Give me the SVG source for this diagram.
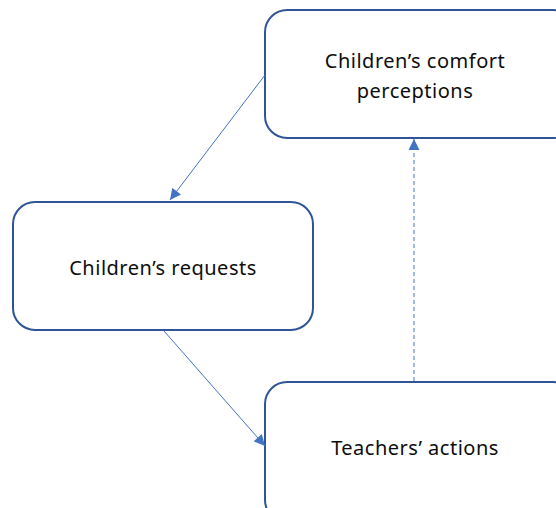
<svg xmlns="http://www.w3.org/2000/svg" width="556" height="508" viewBox="0 0 556 508">
<style>
.box{fill:#fff;stroke:#2F5597;stroke-width:2}
.lbl{font-family:"Noto Sans","Open Sans",sans-serif;font-size:20px;letter-spacing:0.5px;fill:#0d0d0d;text-anchor:middle}
.conn{stroke:#4472C4;stroke-width:1;fill:none}
</style>
<defs>
<marker id="ah" viewBox="0 0 10 10" refX="10" refY="5" markerWidth="12" markerHeight="11" markerUnits="userSpaceOnUse" orient="auto">
<path d="M0,0 L10,5 L0,10 Z" fill="#4472C4"/>
</marker>
</defs>
<g id="node-comfort">
<rect class="box" x="265" y="10" width="310" height="128" rx="22"/>
<text class="lbl" x="415" y="68">Children’s comfort</text>
<text class="lbl" x="415" y="98">perceptions</text>
</g>
<g id="node-requests">
<rect class="box" x="13" y="202" width="300" height="128" rx="22"/>
<text class="lbl" x="163" y="275">Children’s requests</text>
</g>
<g id="node-actions">
<rect class="box" x="265" y="382" width="310" height="140" rx="22"/>
<text class="lbl" x="415" y="455">Teachers’ actions</text>
</g>
<g id="connectors">
<line class="conn" x1="265" y1="75" x2="170" y2="200" marker-end="url(#ah)"/>
<line class="conn" x1="164" y1="331" x2="265" y2="446" marker-end="url(#ah)"/>
<line class="conn" x1="414" y1="381" x2="414" y2="139" stroke-dasharray="4,3" marker-end="url(#ah)"/>
</g>
</svg>
